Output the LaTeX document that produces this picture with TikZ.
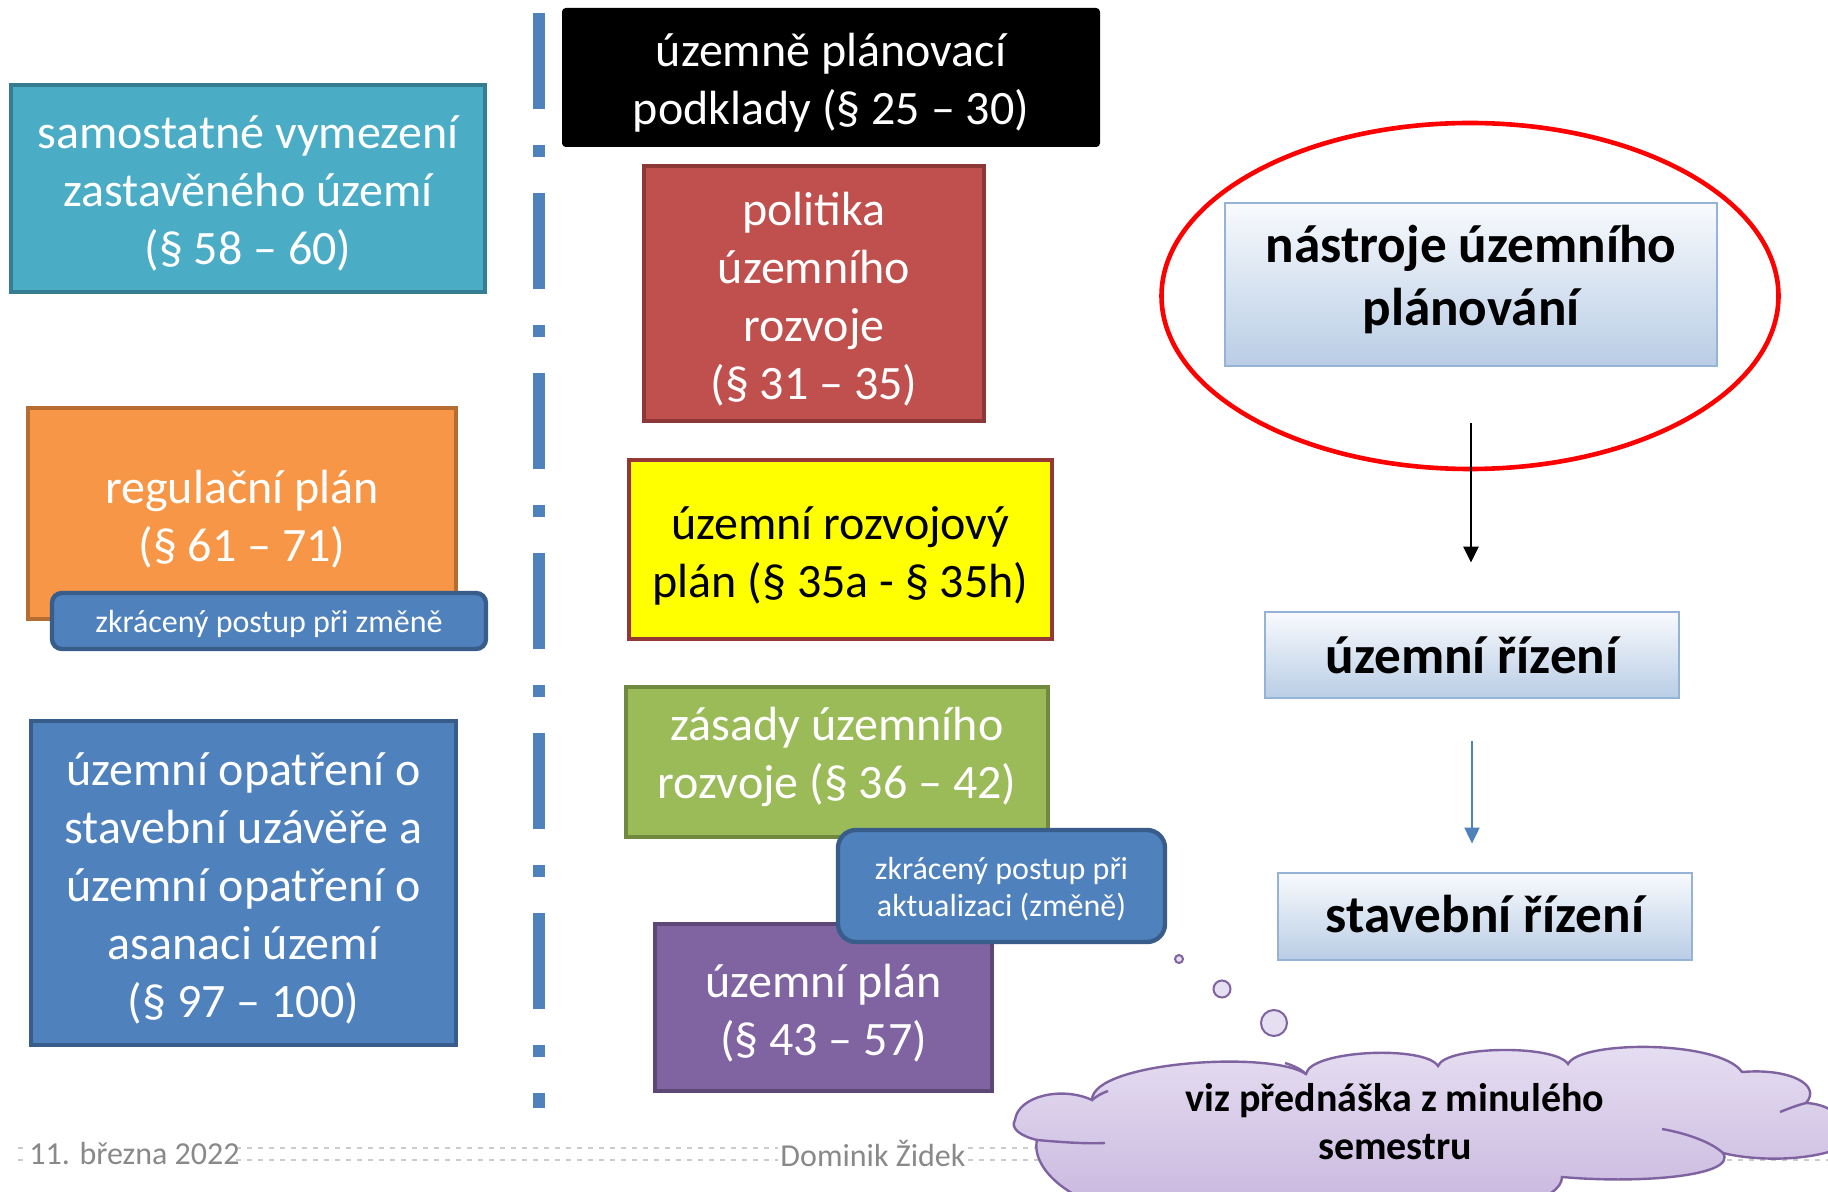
\documentclass[tikz,border=0pt]{standalone}
\usepackage{fontspec}
\setmainfont{Carlito}
\usetikzlibrary{shapes.geometric,arrows.meta}
\definecolor{teal1}{HTML}{4BACC6}\definecolor{teal2}{HTML}{357D91}
\definecolor{red1}{HTML}{C0504D}\definecolor{red2}{HTML}{8C3836}
\definecolor{orng1}{HTML}{F79646}\definecolor{orng2}{HTML}{B66D31}
\definecolor{blue1}{HTML}{4F81BD}\definecolor{blue2}{HTML}{385D8A}
\definecolor{yel1}{HTML}{FFFF00}\definecolor{yel2}{HTML}{953735}
\definecolor{grn1}{HTML}{9BBB59}\definecolor{grn2}{HTML}{71893F}
\definecolor{pur1}{HTML}{8064A2}\definecolor{pur2}{HTML}{5C4776}
\definecolor{gbord}{HTML}{95B3D7}\definecolor{gtop}{HTML}{F8FAFD}\definecolor{gbot}{HTML}{B9CDE5}
\definecolor{cltop}{HTML}{E6DFF2}\definecolor{clbot}{HTML}{C9B6DE}\definecolor{clbord}{HTML}{7F63A1}
\definecolor{foot}{HTML}{898989}
\definecolor{ovalred}{HTML}{FF0000}
\tikzset{
  box/.style={draw, line width=2.2pt, inner sep=0pt},
  boxtext/.style={align=center, text=white, inner sep=0pt, font=\fontsize{24}{29}\selectfont},
  tagbox/.style={draw=blue2, fill=blue1, line width=2.2pt, inner sep=0pt},
  tagtext/.style={align=center, text=white, inner sep=0pt, font=\fontsize{16}{18.5}\selectfont},
  gradbox/.style={draw=gbord, line width=1.4pt, top color=gtop, bottom color=gbot, inner sep=0pt},
  gradtext/.style={align=center, text=black, inner sep=0pt, font=\bfseries\fontsize{26.6}{31.5}\selectfont},
  bubble/.style={circle, draw=clbord, line width=1pt, fill=cltop, inner sep=0pt},
  foottext/.style={text=foot, font=\fontsize{16}{19}\selectfont, inner sep=0pt},
  footdots/.style={draw=black!20, line width=0.7pt, dash pattern=on 2.5pt off 3pt},
  crease/.style={draw=clbord, line width=1.2pt}
}
\begin{document}
\begin{tikzpicture}[x=0.5pt,y=-0.5pt]
\clip (0,0) rectangle (1828,1192);
\fill[white] (0,0) rectangle (1828,1192);

% footer background pattern
\draw[footdots] (18,1148) -- (29,1148) (236,1148) -- (778,1148) (968,1148) -- (1828,1148);
\draw[footdots] (18,1160) -- (29,1160) (236,1160) -- (778,1160) (968,1160) -- (1828,1160);

% separator
\coordinate (sepTop) at (539,13);
\coordinate (sepBot) at (539,1108);
\draw[blue1, line width=6pt, dash pattern=on 48pt off 18pt on 6pt off 18pt] (sepTop) -- (sepBot);

% left column
\node[box, fill=teal1, draw=teal2, minimum width=237pt, minimum height=103.5pt] (teal) at (248,188.5) {};
\node[boxtext] (tealT) at ([yshift=-2.5pt]teal.center) {samostatné vymezení\\zastavěného území\\(§ 58 – 60)};
\node[box, fill=orng1, draw=orng2, minimum width=214pt, minimum height=105.5pt] (orange) at (242,513.5) {};
\node[boxtext] (orangeT) at ([yshift=-3pt]orange.center) {regulační plán\\(§ 61 – 71)};
\node[tagbox, rounded corners=5pt, minimum width=217pt, minimum height=28pt] (tag1) at (269,621) {};
\node[tagtext] (tag1T) at ([yshift=-1.5pt]tag1.center) {zkrácený postup při změně};
\node[box, fill=blue1, draw=blue2, minimum width=212.5pt, minimum height=162pt] (bluebig) at (243.5,883) {};
\node[boxtext] (bluebigT) at ([yshift=-2.5pt]bluebig.center) {územní opatření o\\stavební uzávěře a\\územní opatření o\\asanaci území\\(§ 97 – 100)};

% middle column
\node[box, fill=black, draw=black, line width=1pt, rounded corners=1.5pt, minimum width=268pt, minimum height=68.5pt] (black) at (831,77.5) {};
\node[boxtext] (blackT) at ([yshift=-2.5pt]black.center) {územně plánovací\\podklady (§ 25 – 30)};
\node[box, fill=red1, draw=red2, minimum width=170pt, minimum height=127.5pt] (red) at (814,293.5) {};
\node[boxtext] (redT) at ([yshift=-3pt]red.center) {politika\\územního\\rozvoje\\(§ 31 – 35)};
\node[box, fill=yel1, draw=yel2, minimum width=211.5pt, minimum height=89.5pt] (yellow) at (840.5,549.5) {};
\node[boxtext, text=black] (yellowT) at ([yshift=-3pt]yellow.center) {územní rozvojový\\plán (§ 35a - § 35h)};
\node[box, fill=grn1, draw=grn2, minimum width=211pt, minimum height=75pt] (green) at (837,762) {};
\node[boxtext] (greenT) at ([yshift=2.5pt]green.center) {zásady územního\\rozvoje (§ 36 – 42)};
\node[box, fill=pur1, draw=pur2, minimum width=168.5pt, minimum height=83.5pt] (purple) at (823.5,1007.5) {};
\node[boxtext] (purpleT) at ([yshift=-3pt]purple.center) {územní plán\\(§ 43 – 57)};
\node[tagbox, rounded corners=9pt, minimum width=163.5pt, minimum height=56pt] (tag2) at (1001.5,886) {};
\node[tagtext] (tag2T) at ([yshift=-1.5pt]tag2.center) {zkrácený postup při\\aktualizaci (změně)};

% right column
\node[ellipse, draw=ovalred, line width=2.3pt, minimum width=308.5pt, minimum height=173pt, inner sep=0pt] (oval) at (1470,296) {};
\node[gradbox, minimum width=246pt, minimum height=81.5pt] (grad1) at (1471,284.5) {};
\node[gradtext] (grad1T) at ([yshift=2.5pt]grad1.center) {nástroje územního\\plánování};
\node[gradbox, minimum width=207pt, minimum height=43pt] (grad2) at (1472,655) {};
\node[gradtext] (grad2T) at (grad2.center) {územní řízení};
\node[gradbox, minimum width=207pt, minimum height=43.5pt] (grad3) at (1485,916.5) {};
\node[gradtext] (grad3T) at ([yshift=1pt]grad3.center) {stavební řízení};

\draw[-{Triangle[length=8pt,width=7.5pt]}, line width=1.2pt, shorten <=28pt, shorten >=24pt]
  (grad1.south) -- (grad1.south |- grad2.north);
\draw[blue1, -{Triangle[length=8pt,width=7.5pt]}, line width=1pt, shorten <=21pt, shorten >=14pt]
  (grad2.south) -- (grad2.south |- grad3.north);

% thought bubbles
\node[bubble, minimum size=4pt] (b1) at (1179,959) {};
\node[bubble, minimum size=8.5pt] (b2) at (1222,989) {};
\node[bubble, minimum size=13pt] (b3) at (1274,1023) {};

% cloud
\path[draw=clbord, line width=1.2pt, top color=cltop, bottom color=clbot]
  (1015,1120)
  .. controls (1018,1096) and (1062,1086) .. (1092,1100)
  .. controls (1092,1062) and (1270,1050) .. (1306,1074)
  .. controls (1310,1050) and (1425,1045) .. (1438,1066)
  .. controls (1445,1046) and (1555,1044) .. (1568,1064)
  .. controls (1580,1040) and (1720,1040) .. (1742,1072)
  .. controls (1790,1068) and (1822,1085) .. (1806,1103)
  .. controls (1850,1105) and (1862,1150) .. (1835,1150)
  .. controls (1800,1162) and (1750,1160) .. (1723,1153)
  .. controls (1738,1176) and (1640,1184) .. (1562,1177)
  .. controls (1562,1200) and (1500,1215) .. (1450,1215)
  -- (1150,1215)
  .. controls (1080,1212) and (1030,1172) .. (1037,1140)
  .. controls (1020,1136) and (1010,1128) .. (1015,1120) -- cycle;
\draw[crease] (1092,1100) .. controls (1097,1096) and (1102,1093) .. (1108,1091);
\draw[crease] (1285,1063) .. controls (1295,1066) and (1302,1070) .. (1306,1074);
\draw[crease] (1037,1140) .. controls (1060,1142) and (1085,1144) .. (1105,1143);
\draw[crease] (1662,1129) .. controls (1690,1134) and (1712,1143) .. (1723,1153);
\draw[crease] (1780,1112) .. controls (1790,1108) and (1798,1105) .. (1806,1103);
\node[align=center, font=\bfseries\fontsize{20}{24}\selectfont, text=black] (cloudtxt) at (1395,1122)
  {viz přednáška z minulého\\semestru};

% footer
\node[foottext, anchor=west] (date) at (29,1154) {11. března 2022};
\node[foottext] (author) at (873,1154) {Dominik Židek};
\end{tikzpicture}
\end{document}
